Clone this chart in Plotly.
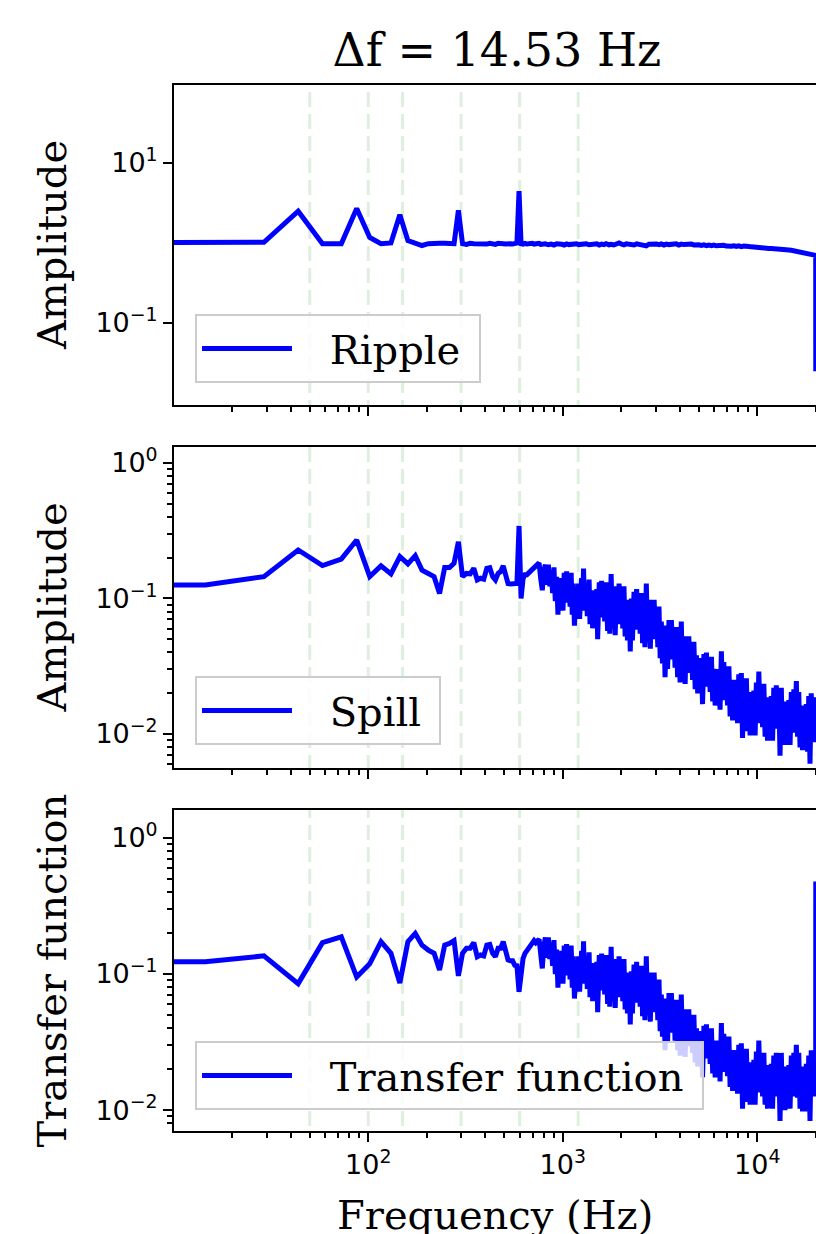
import numpy as np
import plotly.graph_objects as go

# ---------------- data ----------------
DF = 14.53                                   # frequency resolution (Hz)
HARMONICS_HZ = [50, 100, 150, 300, 600, 1200]

# low-frequency bins (every bin)
BINS_LOW = list(range(56))

RIPPLE_LOW = [1.0, 1.0, 1.02, 2.5, 0.98, 0.98, 2.7, 1.17, 0.98, 1.0,
              2.26, 1.07, 1.0, 0.93, 0.98, 0.97, 0.99, 0.99, 0.99, 0.98,
              2.56, 0.98, 0.96, 0.99, 0.98, 0.97, 0.99, 0.98, 0.97, 0.99,
              0.98, 0.96, 0.99, 0.97, 0.98, 0.97, 0.99, 0.98, 0.97, 0.98,
              1.0, 4.45, 0.98, 0.97, 0.99, 0.97, 0.98, 0.96, 0.99, 0.97,
              0.98, 0.97, 0.99, 0.96, 0.98, 0.97]
SPILL_LOW = [0.126, 0.126, 0.145, 0.228, 0.175, 0.195, 0.270, 0.145, 0.174, 0.152,
             0.204, 0.180, 0.207, 0.162, 0.153, 0.145, 0.109, 0.169, 0.169, 0.182,
             0.262, 0.145, 0.153, 0.152, 0.167, 0.137, 0.141, 0.139, 0.167, 0.169,
             0.145, 0.137, 0.153, 0.158, 0.174, 0.145, 0.129, 0.128, 0.129, 0.128,
             0.129, 0.343, 0.100, 0.140, 0.150, 0.150, 0.155, 0.160, 0.165, 0.170,
             0.175, 0.178, 0.183, 0.140, 0.115, 0.160]
TRANSFER_LOW = [0.123, 0.123, 0.136, 0.085, 0.170, 0.188, 0.095, 0.119, 0.173, 0.142,
                0.086, 0.173, 0.199, 0.163, 0.150, 0.142, 0.107, 0.163, 0.168, 0.176,
                0.097, 0.142, 0.155, 0.155, 0.170, 0.134, 0.138, 0.136, 0.163, 0.165,
                0.142, 0.134, 0.155, 0.155, 0.173, 0.145, 0.127, 0.125, 0.125, 0.116,
                0.115, 0.074, 0.101, 0.130, 0.142, 0.148, 0.155, 0.162, 0.170, 0.176,
                0.170, 0.176, 0.180, 0.140, 0.110, 0.160]

# ripple above 800 Hz (slowly rolling off, drops at Nyquist)
RIPPLE_BINS_HIGH = [56, 58, 60, 62, 64, 66, 68, 70, 72, 74, 76, 78, 81, 83, 86, 88, 91, 94, 97, 100,
                    103, 106, 109, 112, 115, 119, 122, 126, 130, 134, 138, 142, 146, 151, 155, 160, 165, 170, 175, 180,
                    185, 191, 197, 203, 209, 215, 221, 228, 235, 242, 249, 257, 264, 272, 280, 289, 297, 306, 315, 325,
                    335, 345, 355, 366, 377, 388, 400, 412, 424, 437, 450, 463, 477, 492, 506, 522, 537, 553, 570, 587,
                    605, 623, 642, 661, 681, 701, 722, 744, 766, 789, 813, 837, 862, 888, 915, 942, 971, 1000, 1030, 1061,
                    1093, 1125, 1159, 1194, 1230, 1266, 1304, 1340, 1375, 1376]
RIPPLE_HIGH = [0.975, 0.95, 0.97, 0.945, 0.98, 0.955, 0.965, 0.945, 0.975, 0.955,
               0.97, 0.95, 0.98, 0.955, 0.965, 0.945, 0.975, 0.95, 0.97, 0.955,
               0.975, 0.945, 0.97, 0.955, 0.98, 0.95, 0.965, 0.945, 0.975, 1.0,
               0.97, 0.95, 0.975, 0.955, 0.97, 0.945, 0.975, 0.955, 0.965, 0.95,
               0.92, 0.965, 0.975, 0.95, 0.97, 0.955, 0.975, 0.945, 0.97, 0.955,
               0.965, 0.95, 0.975, 0.945, 0.97, 0.955, 0.965, 0.95, 0.97, 0.945,
               0.965, 0.95, 0.93, 0.948, 0.928, 0.945, 0.925, 0.942, 0.923, 0.938,
               0.92, 0.935, 0.915, 0.93, 0.91, 0.925, 0.905, 0.92, 0.9, 0.915,
               0.895, 0.905, 0.895, 0.885, 0.885, 0.875, 0.875, 0.865, 0.865, 0.855,
               0.855, 0.845, 0.845, 0.835, 0.835, 0.825, 0.825, 0.815, 0.81, 0.8,
               0.795, 0.785, 0.775, 0.765, 0.755, 0.745, 0.735, 0.72, 0.70, 0.025]

# spill / transfer function above 800 Hz (noisy band), read as log10 amplitude
NOISE_BINS_HIGH = [56, 57, 58, 59, 60, 61, 62, 63, 64, 65,
                   66, 67, 68, 69, 70, 71, 72, 73, 74, 75,
                   76, 77, 78, 79, 81, 82, 83, 84, 86, 87,
                   88, 89, 91, 92, 94, 95, 97, 98, 100, 101,
                   103, 104, 106, 107, 109, 110, 112, 113, 115, 117,
                   119, 120, 122, 124, 126, 128, 130, 132, 134, 136,
                   138, 140, 142, 144, 146, 148, 151, 153, 155, 157,
                   160, 162, 165, 167, 170, 172, 175, 177, 180, 182,
                   185, 188, 191, 194, 197, 200, 203, 206, 209, 212,
                   215, 218, 221, 224, 228, 231, 235, 238, 242, 245,
                   249, 253, 257, 260, 264, 268, 272, 276, 280, 284,
                   289, 293, 297, 301, 306, 310, 315, 320, 325, 330,
                   335, 340, 345, 350, 355, 360, 366, 371, 377, 382,
                   388, 394, 400, 406, 412, 418, 424, 430, 437, 443,
                   450, 456, 463, 470, 477, 484, 492, 499, 506, 514,
                   522, 529, 537, 545, 553, 561, 570, 578, 587, 596,
                   605, 614, 623, 632, 642, 651, 661, 671, 681, 691,
                   701, 711, 722, 733, 744, 755, 766, 777, 789, 801,
                   813, 825, 837, 849, 862, 875, 888, 901, 915, 928,
                   942, 956, 971, 985, 1000, 1015, 1030, 1045, 1061, 1077,
                   1093, 1109, 1125, 1142, 1159, 1176, 1194, 1212, 1230, 1248,
                   1266, 1285, 1304, 1322, 1340, 1358, 1375, 1376]
SPILL_HIGH_LOG10 = [-0.75, -0.90, -0.75, -0.91, -0.79, -0.96, -0.77, -1.02, -0.84, -1.12,
                    -0.88, -1.05, -0.85, -1.09, -0.81, -1.03, -0.80, -1.01, -0.84, -1.06,
                    -0.81, -1.12, -0.89, -1.20, -0.93, -1.11, -0.89, -1.15, -0.85, -1.09,
                    -0.78, -1.07, -0.89, -1.13, -0.86, -1.19, -0.94, -1.22, -0.98, -1.18,
                    -0.93, -1.30, -0.88, -1.14, -0.87, -1.12, -0.92, -1.17, -0.88, -1.24,
                    -0.97, -1.26, -0.82, -1.22, -0.96, -1.27, -0.91, -1.19, -0.89, -1.16,
                    -0.95, -1.22, -0.91, -1.28, -1.01, -1.31, -1.04, -1.39, -1.00, -1.31,
                    -0.95, -1.23, -0.93, -1.21, -0.99, -1.26, -0.96, -1.33, -1.05, -1.36,
                    -0.89, -1.32, -1.05, -1.37, -1.01, -1.30, -1.01, -1.29, -1.08, -1.36,
                    -1.06, -1.44, -1.17, -1.48, -1.22, -1.58, -1.20, -1.52, -1.16, -1.45,
                    -1.16, -1.45, -1.24, -1.51, -1.21, -1.58, -1.32, -1.62, -1.17, -1.58,
                    -1.33, -1.63, -1.28, -1.55, -1.28, -1.54, -1.34, -1.60, -1.32, -1.67,
                    -1.42, -1.70, -1.47, -1.67, -1.44, -1.78, -1.41, -1.65, -1.40, -1.64,
                    -1.45, -1.69, -1.43, -1.76, -1.52, -1.79, -1.56, -1.76, -1.52, -1.82,
                    -1.39, -1.75, -1.47, -1.73, -1.53, -1.79, -1.50, -1.87, -1.60, -1.90,
                    -1.64, -1.87, -1.60, -1.92, -1.56, -1.85, -1.55, -2.03, -1.61, -1.90,
                    -1.59, -1.98, -1.69, -2.01, -1.73, -1.96, -1.68, -2.01, -1.62, -1.92,
                    -1.54, -1.89, -1.66, -1.95, -1.63, -2.02, -1.73, -2.05, -1.76, -2.00,
                    -1.72, -2.05, -1.66, -1.96, -1.64, -1.93, -1.70, -2.16, -1.66, -2.06,
                    -1.76, -2.08, -1.80, -2.03, -1.75, -2.08, -1.69, -1.99, -1.67, -1.97,
                    -1.61, -2.02, -1.69, -2.10, -1.79, -2.12, -1.83, -2.07, -1.78, -2.13,
                    -1.72, -2.22, -1.70, -2.00, -1.77, -2.06, -1.73, -1.92]
TRANSFER_HIGH_LOG10 = [-0.73, -0.88, -0.73, -0.89, -0.77, -0.94, -0.75, -1.00, -0.82, -1.10,
                       -0.86, -1.03, -0.83, -1.07, -0.79, -1.01, -0.78, -0.99, -0.82, -1.04,
                       -0.79, -1.10, -0.87, -1.18, -0.91, -1.09, -0.87, -1.13, -0.83, -1.07,
                       -0.76, -1.05, -0.87, -1.11, -0.84, -1.17, -0.92, -1.20, -0.96, -1.16,
                       -0.91, -1.28, -0.86, -1.12, -0.85, -1.10, -0.90, -1.15, -0.86, -1.22,
                       -0.95, -1.24, -0.80, -1.20, -0.94, -1.25, -0.89, -1.17, -0.87, -1.14,
                       -0.93, -1.20, -0.89, -1.26, -0.99, -1.29, -1.02, -1.37, -0.98, -1.29,
                       -0.93, -1.21, -0.91, -1.19, -0.97, -1.24, -0.94, -1.31, -1.03, -1.34,
                       -0.87, -1.30, -1.03, -1.35, -0.99, -1.28, -0.99, -1.27, -1.06, -1.34,
                       -1.04, -1.42, -1.15, -1.46, -1.20, -1.56, -1.18, -1.50, -1.14, -1.43,
                       -1.14, -1.43, -1.22, -1.49, -1.19, -1.56, -1.30, -1.60, -1.15, -1.56,
                       -1.31, -1.61, -1.26, -1.53, -1.26, -1.52, -1.32, -1.58, -1.30, -1.65,
                       -1.40, -1.68, -1.45, -1.65, -1.42, -1.76, -1.38, -1.62, -1.37, -1.61,
                       -1.42, -1.66, -1.40, -1.73, -1.49, -1.76, -1.53, -1.73, -1.49, -1.79,
                       -1.36, -1.72, -1.44, -1.69, -1.49, -1.75, -1.46, -1.83, -1.56, -1.86,
                       -1.60, -1.83, -1.56, -1.88, -1.52, -1.81, -1.51, -1.99, -1.57, -1.86,
                       -1.55, -1.94, -1.65, -1.96, -1.68, -1.91, -1.63, -1.96, -1.57, -1.87,
                       -1.49, -1.84, -1.61, -1.90, -1.58, -1.96, -1.67, -1.99, -1.70, -1.94,
                       -1.66, -1.99, -1.60, -1.90, -1.58, -1.87, -1.64, -2.08, -1.58, -1.98,
                       -1.68, -2.00, -1.72, -1.95, -1.67, -1.99, -1.60, -1.90, -1.58, -1.88,
                       -1.52, -1.91, -1.58, -1.99, -1.68, -2.01, -1.72, -1.95, -1.66, -2.01,
                       -1.60, -2.08, -1.56, -1.86, -1.61, -1.90, -1.57, -0.32]

assert len(RIPPLE_BINS_HIGH) == len(RIPPLE_HIGH)
assert len(NOISE_BINS_HIGH) == len(SPILL_HIGH_LOG10) == len(TRANSFER_HIGH_LOG10)


# ---------------- build ----------------
def to_freq(bins):
    f = np.asarray(bins, dtype=float) * DF
    # like matplotlib's log-scale clipping of non-positive values
    return np.where(f > 0, f, 1e-3)


freq_ripple = to_freq(BINS_LOW + RIPPLE_BINS_HIGH)
freq_noise = to_freq(BINS_LOW + NOISE_BINS_HIGH)
ripple = RIPPLE_LOW + RIPPLE_HIGH
spill = SPILL_LOW + list(10 ** np.array(SPILL_HIGH_LOG10))
transfer = TRANSFER_LOW + list(10 ** np.array(TRANSFER_HIGH_LOG10))

BLUE = "#0000ff"
SERIF = "DejaVu Serif"
SANS = "DejaVu Sans"
LW = 5

fig = go.Figure()

# vertical harmonic markers (drawn first so they sit behind the data)
hx, hy = [], []
for h in HARMONICS_HZ:
    hx += [h, h, None]
    hy += [1e-6, 1e6, None]
for xa, ya in [("x", "y"), ("x2", "y2"), ("x3", "y3")]:
    fig.add_trace(go.Scatter(x=hx, y=hy, mode="lines", showlegend=False, hoverinfo="skip",
                             line=dict(color="rgba(0,128,0,0.13)", width=3, dash="15px,7px"),
                             xaxis=xa, yaxis=ya))

panels = [
    ("Ripple", freq_ripple, ripple, "x", "y", "legend"),
    ("Spill", freq_noise, spill, "x2", "y2", "legend2"),
    ("Transfer function", freq_noise, transfer, "x3", "y3", "legend3"),
]
for name, fx, vals, xa, ya, lg in panels:
    fig.add_trace(go.Scatter(x=fx, y=vals, mode="lines",
                             name="\u2002\u00a0" + name + "\u00a0",
                             line=dict(color=BLUE, width=LW),
                             xaxis=xa, yaxis=ya, legend=lg, showlegend=True))


def sup(e):
    return "10<sup>" + ("\u2212" + str(-e) if e < 0 else str(e)) + "</sup>"


def minor_vals(emin, emax):
    return [m * 10.0 ** e for e in range(emin, emax + 1) for m in range(2, 10)]


XR = [1.001, 4.302]
xcommon = dict(type="log", range=XR, showline=True, linecolor="black", linewidth=2,
               mirror=True, ticks="outside", ticklen=9, tickwidth=2, tickcolor="black",
               tickmode="array", tickvals=[100, 1000, 10000], ticktext=[sup(2), sup(3), sup(4)],
               showgrid=False, zeroline=False,
               tickfont=dict(family=SANS, size=27, color="black"),
               minor=dict(ticks="outside", ticklen=5, tickwidth=1.5, tickcolor="black",
                          tickmode="array", tickvals=minor_vals(1, 4), showgrid=False))
ycommon = dict(type="log", showline=True, linecolor="black", linewidth=2, mirror=False,
               ticks="outside", ticklen=9, tickwidth=2, tickcolor="black",
               showgrid=False, zeroline=False, tickmode="array",
               tickfont=dict(family=SANS, size=27, color="black"))
yminor = dict(ticks="outside", ticklen=5, tickwidth=1.5, tickcolor="black",
              tickmode="array", tickvals=minor_vals(-3, 0), showgrid=False)

legend_common = dict(xanchor="left", yanchor="bottom",
                     font=dict(family=SERIF, size=40, color="black"),
                     bgcolor="rgba(255,255,255,0.8)", bordercolor="#cccccc", borderwidth=2,
                     itemwidth=90)

label_font = dict(family=SERIF, size=40, color="black")

fig.update_layout(
    width=816, height=1234, autosize=False,
    margin=dict(l=174, r=0, t=85, b=103),
    paper_bgcolor="white", plot_bgcolor="white",
    title=dict(text="Δf = 14.53 Hz", x=0.503, xref="paper", xanchor="center",
               y=1 - 50 / 1234, yref="container", yanchor="middle",
               font=dict(family=SERIF, size=46, color="black")),
    xaxis=dict(**xcommon, anchor="y", domain=[0, 1], showticklabels=False),
    xaxis2=dict(**xcommon, anchor="y2", domain=[0, 1], matches="x", showticklabels=False),
    xaxis3=dict(**xcommon, anchor="y3", domain=[0, 1], matches="x", showticklabels=True),
    yaxis=dict(**ycommon, anchor="x", domain=[0.69407, 1.0], range=[-2.025, 1.975],
               tickvals=[0.1, 10], ticktext=[sup(-1), sup(1)]),
    yaxis2=dict(**ycommon, anchor="x2", domain=[0.34704, 0.65392], range=[-2.251, 0.118],
                tickvals=[0.01, 0.1, 1], ticktext=[sup(-2), sup(-1), sup(0)], minor=yminor),
    yaxis3=dict(**ycommon, anchor="x3", domain=[0.0, 0.30688], range=[-2.154, 0.206],
                tickvals=[0.01, 0.1, 1], ticktext=[sup(-2), sup(-1), sup(0)], minor=yminor),
    legend=dict(**legend_common, x=0.0327, y=0.7151),
    legend2=dict(**legend_common, x=0.0327, y=0.369),
    legend3=dict(**legend_common, x=0.0327, y=0.0201),
    annotations=[
        dict(text="Amplitude", x=-0.19, y=0.847, xref="paper", yref="paper",
             textangle=-90, showarrow=False, xanchor="center", yanchor="middle", font=label_font),
        dict(text="Amplitude", x=-0.19, y=0.5005, xref="paper", yref="paper",
             textangle=-90, showarrow=False, xanchor="center", yanchor="middle", font=label_font),
        dict(text="Transfer function", x=-0.19, y=0.1535, xref="paper", yref="paper",
             textangle=-90, showarrow=False, xanchor="center", yanchor="middle", font=label_font),
        dict(text="Frequency (Hz)", x=0.5, y=-0.0803, xref="paper", yref="paper",
             showarrow=False, xanchor="center", yanchor="middle", font=label_font),
    ],
)

fig.write_html("out.html")
